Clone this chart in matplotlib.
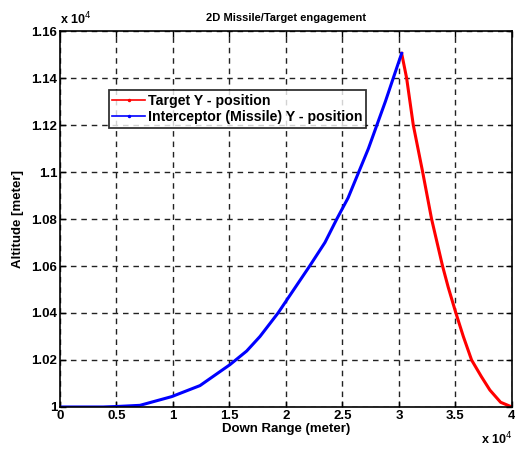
import numpy as np
import matplotlib
matplotlib.use("Agg")
import matplotlib.pyplot as plt
from matplotlib.ticker import FuncFormatter, MultipleLocator

plt.rcParams["font.family"] = ["Liberation Sans", "DejaVu Sans"]

# interceptor (missile) trajectory, meters
missile_x = [0, 3830, 5000, 7080, 9880, 12390, 15040, 16520, 17700, 19300,
             22100, 23450, 24500, 25500, 26400, 27300, 28050, 28800,
             29500, 30240]
missile_y = [10000, 10000, 10002, 10007, 10044, 10091, 10180, 10238, 10300, 10400,
             10600, 10700, 10800, 10890, 10995, 11100, 11200, 11300,
             11400, 11505]

# target trajectory, meters
target_x = [30240, 30680, 31270, 32100, 32890, 33860, 34360, 35040, 35700,
            36430, 37300, 38050, 39000, 40000]
target_y = [11505, 11400, 11200, 11000, 10800, 10600, 10510, 10400, 10300,
            10200, 10129, 10072, 10020, 10000]

fig = plt.figure(figsize=(5.15, 4.5), dpi=100)
ax = fig.add_axes([0.1165, 0.0956, 0.8775, 0.8354])

ax.plot(target_x, target_y, color="red", lw=2.2, solid_joinstyle="round",
        label="Target Y - position")
ax.plot(missile_x, missile_y, color="blue", lw=2.2, solid_joinstyle="round",
        label="Interceptor (Missile) Y - position")

ax.set_xlim(0, 40000)
ax.set_ylim(10000, 11600)
ax.xaxis.set_major_locator(MultipleLocator(5000))
ax.yaxis.set_major_locator(MultipleLocator(200))
ax.xaxis.set_major_formatter(FuncFormatter(lambda v, p: "%g" % (v / 1e4)))
ax.yaxis.set_major_formatter(FuncFormatter(lambda v, p: "%g" % round(v / 1e4, 2)))

ax.grid(True, color="#222222", linestyle=(0, (4, 3.5)), lw=1.0)
ax.tick_params(direction="in", top=True, right=True, length=4, width=1,
               labelsize=9.5, pad=2)
for lab in ax.get_xticklabels() + ax.get_yticklabels():
    lab.set_fontweight("bold")
for s in ax.spines.values():
    s.set_linewidth(1.2)

ax.set_title("2D Missile/Target engagement", fontsize=8, fontweight="bold", pad=7)
ax.set_xlabel("Down Range (meter)", fontsize=9.5, fontweight="bold", labelpad=1)
ax.set_ylabel("Altitude [meter]", fontsize=9.5, fontweight="bold", labelpad=5)

fig.text(0.117, 0.947, r"x 10$^4$", fontsize=9, fontweight="bold")
fig.text(0.934, 0.012, r"x 10$^4$", fontsize=9, fontweight="bold")

leg = ax.legend(loc="upper left", bbox_to_anchor=(0.108, 0.842),
                prop={"weight": "bold", "size": 10.2},
                frameon=True, fancybox=False, edgecolor="black", handlelength=2.3,
                handletextpad=0.2, borderpad=0.25, labelspacing=0.15,
                borderaxespad=0)
leg.get_frame().set_linewidth(1.3)
for h in leg.get_lines():
    h.set_linewidth(1.2)
    h.set_marker(".")
    h.set_markersize(3)
    h.set_markevery([1])

fig.savefig("out.png", dpi=100)
